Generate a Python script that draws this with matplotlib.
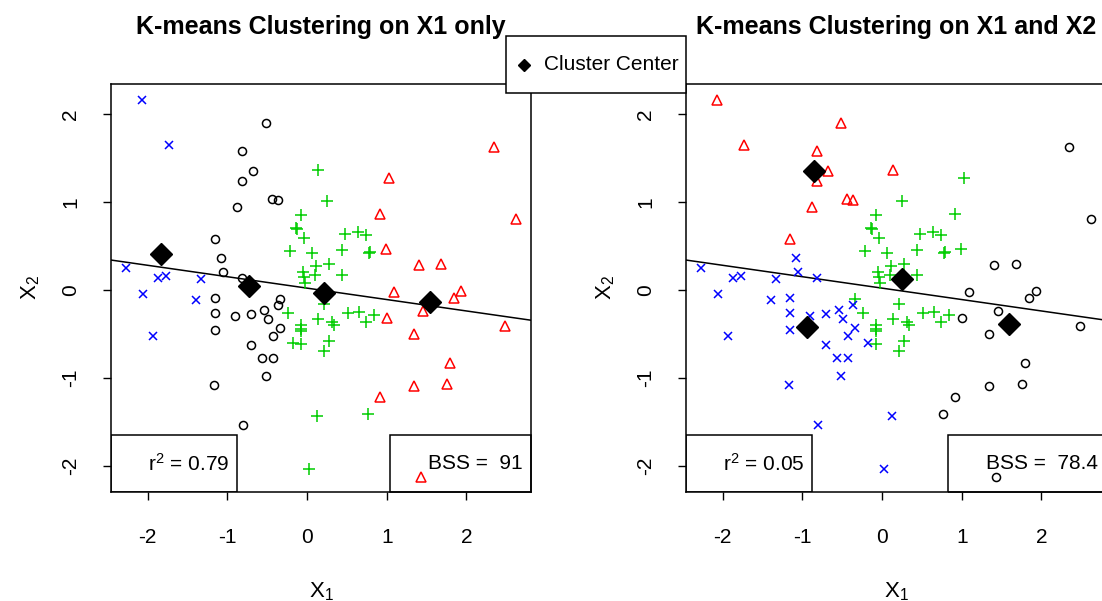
import numpy as np
import matplotlib
matplotlib.use("Agg")
import matplotlib.pyplot as plt
from matplotlib.patches import Rectangle
from matplotlib.lines import Line2D

plt.rcParams['font.family'] = ['Liberation Sans', 'DejaVu Sans']
plt.rcParams['mathtext.fontset'] = 'custom'
plt.rcParams['mathtext.rm'] = 'Liberation Sans'
plt.rcParams['axes.unicode_minus'] = False

# data points (X1, X2), grouped by the cluster they get on X1 only
x1 = [-2.07, -1.73, -2.27, -1.87, -1.77, -1.33, -2.06, -1.39, -1.93,
      -0.52, -0.82, -0.68, -0.815, -0.435, -0.37, -0.88, -1.16, -1.08, -1.05,
      -0.82, -1.15, -1.15, -1.15, -0.90, -0.70, -0.54, -0.485, -0.36, -0.34,
      -0.345, -0.43, -0.70, -0.57, -0.43, -0.51, -1.17, -0.80,
      2.345, 1.03, 0.91, 2.62, 0.995, 1.41, 1.68, 1.095, 1.93, 1.85, 1.455,
      1.003, 2.48, 1.345, 1.79, 1.755, 1.345, 0.92, 1.43,
      0.14, 0.245, -0.08, -0.14, -0.12, -0.04, 0.47, 0.645, 0.735, -0.21,
      0.06, 0.435, 0.78, 0.79, 0.27, 0.11, 0.10, 0.435, -0.05, -0.04, -0.03,
      0.213, 0.52, 0.656, 0.84, 0.735, 0.14, 0.31, 0.34, -0.234, -0.08,
      -0.07, -0.08, -0.18, -0.08, 0.28, 0.213, 0.12, 0.76, 0.025]
x2 = [2.165, 1.65, 0.247, 0.133, 0.16, 0.12, -0.05, -0.114, -0.524,
      1.90, 1.58, 1.35, 1.24, 1.04, 1.02, 0.95, 0.58, 0.365, 0.20,
      0.14, -0.088, -0.26, -0.46, -0.30, -0.27, -0.23, -0.33, -0.17, -0.10,
      -0.43, -0.52, -0.63, -0.77, -0.77, -0.98, -1.08, -1.54,
      1.63, 1.28, 0.86, 0.81, 0.47, 0.28, 0.30, -0.023, -0.008, -0.088, -0.236,
      -0.32, -0.414, -0.50, -0.835, -1.07, -1.094, -1.22, -2.13,
      1.37, 1.01, 0.85, 0.71, 0.695, 0.59, 0.635, 0.66, 0.627, 0.44,
      0.42, 0.456, 0.425, 0.435, 0.30, 0.27, 0.17, 0.167, 0.205, 0.148, 0.085,
      -0.163, -0.26, -0.247, -0.29, -0.36, -0.33, -0.37, -0.40, -0.26, -0.40,
      -0.44, -0.47, -0.60, -0.61, -0.58, -0.69, -1.44, -1.41, -2.04]

# cluster labels (1 black o, 2 red triangle, 3 green +, 4 blue x)
clust_x1 = [4] * 9 + [1] * 28 + [2] * 19 + [3] * 40
clust_x1x2 = ([2, 2] + [4] * 7
              + [2] * 8 + [4] * 11 + [3] + [4] * 8
              + [1, 3, 3, 1, 3] + [1] * 14
              + [2] + [3] * 32 + [4, 3, 3, 3, 4, 1, 4])

centers_x1 = ([-1.83, -0.727, 0.217, 1.546], [0.41, 0.05, -0.03, -0.137])
centers_x1x2 = ([-0.86, -0.94, 0.25, 1.589], [1.356, -0.425, 0.12, -0.387])

# regression line of X2 on X1
line_a, line_b = 0.021, -0.13

titles = ["K-means Clustering on X1 only", "K-means Clustering on X1 and X2"]
r2_text = ["0.79", "0.05"]
bss_text = ["BSS =  91", "BSS =  78.4"]

cols = {1: 'black', 2: '#FF0000', 3: '#00CD00', 4: '#0000FF'}
marks = {1: 'o', 2: '^', 3: '+', 4: 'x'}
msize = {1: 5.8, 2: 6.5, 3: 8.5, 4: 6.3}

W, H = 1102, 601
fig = plt.figure(figsize=(W / 100, H / 100), dpi=100)

def px_axes(left, top, w, h):
    return fig.add_axes([left / W, (H - top - h) / H, w / W, h / H])

ax_left = px_axes(111, 84, 420, 408)
ax_right = px_axes(686, 84, 420, 408)
bss_box_left = [0.664, 0.624]

X1 = np.array(x1)
X2 = np.array(x2)
for k, (ax, labs, cen) in enumerate([(ax_left, clust_x1, centers_x1),
                                     (ax_right, clust_x1x2, centers_x1x2)]):
    labs = np.array(labs)
    for c in [1, 2, 3, 4]:
        m = labs == c
        if c in (1, 2):
            ax.plot(X1[m], X2[m], linestyle='none', marker=marks[c],
                    ms=msize[c], mfc='none', mec=cols[c], mew=1.1, zorder=3)
        else:
            ax.plot(X1[m], X2[m], linestyle='none', marker=marks[c],
                    ms=msize[c], color=cols[c], mew=1.1, zorder=3)
    ax.plot(cen[0], cen[1], linestyle='none', marker='D', ms=11,
            color='black', zorder=4)
    xs = np.array([-2.46, 2.81])
    ax.plot(xs, line_a + line_b * xs, color='black', lw=1.1, zorder=2)

    ax.set_xlim(-2.46, 2.81)
    ax.set_ylim(-2.30, 2.345)
    ax.set_xticks([-2, -1, 0, 1, 2])
    ax.set_yticks([-2, -1, 0, 1, 2])
    ax.tick_params(length=6, width=1, labelsize=15, direction='out')
    ax.tick_params(axis='x', pad=20)
    ax.tick_params(axis='y', pad=16)
    for lab in ax.get_yticklabels():
        lab.set_rotation(90)
        lab.set_va('center')
    for sp in ax.spines.values():
        sp.set_linewidth(1.1)
    ax.set_xlabel(r'$\mathregular{X_1}$', fontsize=16, labelpad=24)
    ax.set_ylabel(r'$\mathregular{X_2}$', fontsize=16, labelpad=14)

    ax.text(0.5, 1 + 57 / 408, titles[k], transform=ax.transAxes,
            ha='center', va='center', fontsize=18, fontweight='bold')

    # r^2 and BSS boxes
    bh = 57 / 408
    ax.add_patch(Rectangle((0, 0), 126 / 420, bh, transform=ax.transAxes,
                           fill=False, lw=1.1, zorder=1))
    ax.text(37 / 420, bh / 2, r'$\mathregular{r^2}$ = ' + r2_text[k],
            transform=ax.transAxes, ha='left', va='center', fontsize=15)
    bx = bss_box_left[k]
    ax.add_patch(Rectangle((bx, 0), 1 - bx, bh, transform=ax.transAxes,
                           fill=False, lw=1.1, zorder=1, clip_on=False))
    ax.text(bx + 38 / 420, bh / 2, bss_text[k], transform=ax.transAxes,
            ha='left', va='center', fontsize=15)

# shared legend box at top
fig.patches.append(Rectangle((506 / W, (H - 93) / H), 180 / W, 57 / H,
                             transform=fig.transFigure, fill=True,
                             facecolor='white', edgecolor='black', lw=1.1,
                             zorder=5))
fig.lines.append(Line2D([524 / W], [(H - 65) / H], transform=fig.transFigure,
                        marker='D', ms=6, color='black', linestyle='none',
                        zorder=6))
fig.text(544 / W, (H - 65) / H, "Cluster Center", ha='left', va='center',
         fontsize=15, zorder=6)

fig.savefig("out.png", dpi=100)
